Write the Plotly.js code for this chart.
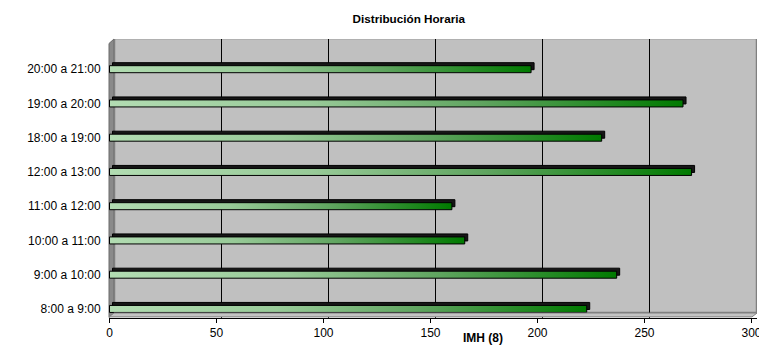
<!DOCTYPE html>
<html>
<head>
<meta charset="utf-8">
<script src="https://cdn.plot.ly/plotly-3.0.1.min.js"></script>
<style>
html,body{margin:0;padding:0;background:#fff;}
#chart{width:759px;height:346px;}
</style>
</head>
<body>
<div id="chart"></div>
<script>
// ---- data (bottom to top) ----
var categories = ['8:00 a 9:00','9:00 a 10:00','10:00 a 11:00','11:00 a 12:00','12:00 a 13:00','18:00 a 19:00','19:00 a 20:00','20:00 a 21:00'];
var values = [223, 237, 166, 160, 272, 230, 268, 197];
var xTickVals = [0, 50, 100, 150, 200, 250, 300];
var gridVals = [50, 100, 150, 200, 250];
var yMinorTicks = [0,1,2,3,4,5,6,7,8,9,10,11,12,13,14,15,16];
var chartTitle = 'Distribución Horaria';
var xTitle = 'IMH (8)';

// ---- geometry (3D offsets in pixels) ----
var pxPerUnitX = 642/300;      // front plane
var pxPerUnitYLin = 274/16;    // front plane, 16 tick slots
var plotW = 648, plotH = 279;
var fx0 = -0.5/pxPerUnitX, fx1 = fx0 + plotW/pxPerUnitX;
var fy0 = -0.5/pxPerUnitYLin, fy1 = fy0 + plotH/pxPerUnitYLin;
var backShift = 5, shadowShift = 3;

var FONT = 'Liberation Sans, Arial, sans-serif';

var data = [
  { // depth / top face of bars
    type: 'bar', orientation: 'h', x: values, y: categories,
    xaxis: 'x2', yaxis: 'y2', width: 0.205,
    marker: {color: '#161616', line: {color: '#000', width: 1}},
    hoverinfo: 'skip'
  },
  { // front face of bars
    type: 'bar', orientation: 'h', x: values, y: categories,
    xaxis: 'x3', yaxis: 'y3', width: 0.205,
    marker: {color: '#5aa85a', line: {color: '#000', width: 1}}
  }
];

var catY0 = fy0/2 - 0.25, catY1 = fy1/2 - 0.25;
var catShift = shadowShift/(2*pxPerUnitYLin);

var layout = {
  width: 759, height: 346,
  margin: {l: 109, r: 2, t: 39, b: 28, pad: 0},
  paper_bgcolor: '#ffffff', plot_bgcolor: 'rgba(0,0,0,0)',
  showlegend: false,
  font: {family: FONT, size: 12, color: '#000'},
  title: {
    text: chartTitle, xref: 'container', yref: 'container',
    x: 408.8/759, xanchor: 'center', y: 1 - 19/346, yanchor: 'middle',
    font: {family: FONT, size: 11.7, color: '#000', weight: 700}
  },
  // back wall axes (gridlines)
  xaxis: {range: [fx0 - backShift/pxPerUnitX, fx1 - backShift/pxPerUnitX], tickvals: gridVals,
          showgrid: true, gridcolor: '#000', gridwidth: 1, showticklabels: false, ticks: '',
          zeroline: false, showline: false, fixedrange: true},
  yaxis: {range: [fy0 - backShift/pxPerUnitYLin, fy1 - backShift/pxPerUnitYLin], showgrid: false,
          showticklabels: false, ticks: '', zeroline: false, showline: false, fixedrange: true},
  // shadow axes
  xaxis2: {overlaying: 'x', anchor: 'y2', range: [fx0 - shadowShift/pxPerUnitX, fx1 - shadowShift/pxPerUnitX],
           visible: false, fixedrange: true},
  yaxis2: {overlaying: 'y', anchor: 'x2', type: 'category', categoryorder: 'array', categoryarray: categories,
           range: [catY0 - catShift, catY1 - catShift], visible: false, fixedrange: true},
  // front axes
  xaxis3: {overlaying: 'x', anchor: 'y3', side: 'bottom', range: [fx0, fx1], tickvals: xTickVals,
           ticks: 'outside', ticklen: 4, tickwidth: 1, tickcolor: '#000', ticklabeloverflow: 'allow',
           showline: true, linecolor: '#000', linewidth: 1, showgrid: false, zeroline: false,
           tickfont: {family: FONT, size: 12, color: '#000'}, fixedrange: true},
  yaxis3: {overlaying: 'y', anchor: 'x3', side: 'left', type: 'category', categoryorder: 'array',
           categoryarray: categories, range: [catY0, catY1],
           ticks: 'outside', ticklen: 5, tickcolor: 'rgba(0,0,0,0)', showline: false, showgrid: false,
           zeroline: false, tickfont: {family: FONT, size: 12, color: '#000'}, fixedrange: true},
  // front y tick marks (two per category slot)
  yaxis4: {overlaying: 'y', anchor: 'x3', side: 'left', range: [fy0, fy1], tickvals: yMinorTicks,
           ticks: 'outside', ticklen: 5, tickcolor: '#000', tickwidth: 1, showticklabels: false,
           showline: true, linecolor: '#000', linewidth: 1.5, showgrid: false, zeroline: false, fixedrange: true},
  shapes: [
    // back wall
    {type: 'rect', xref: 'x', yref: 'y', x0: 0, x1: 300, y0: 0, y1: 16, layer: 'below',
     fillcolor: '#c0c0c0', line: {color: '#808080', width: 1.5}},
    // left side wall
    {type: 'path', xref: 'paper', yref: 'paper', layer: 'below',
     path: 'M 0 0.0018 L 0 0.9839 L 0.0077 1 L 0.0077 0.0179 Z',
     fillcolor: '#8a8a8a', line: {color: '#6a6a6a', width: 1}},
    // floor
    {type: 'path', xref: 'paper', yref: 'paper', layer: 'above',
     path: 'M 0 0.004 L 0.0077 0.0179 L 1 0.0179 L 0.9923 0.004 Z',
     fillcolor: '#c4c4c4', line: {color: '#808080', width: 1}}
  ],
  annotations: [
    {text: xTitle, xref: 'paper', yref: 'paper', x: (483-109)/648, y: (318-346)/279,
     xanchor: 'center', yanchor: 'bottom', showarrow: false, borderpad: 0,
     font: {family: FONT, size: 12, color: '#000', weight: 700}}
  ]
};

var gd = document.getElementById('chart');
Plotly.newPlot(gd, data, layout, {staticPlot: true, displayModeBar: false}).then(function(){
  var ns = 'http://www.w3.org/2000/svg';
  var svg = gd.querySelector('svg.main-svg');
  var defs = svg.querySelector('defs');
  if (!defs) { defs = document.createElementNS(ns, 'defs'); svg.insertBefore(defs, svg.firstChild); }
  var lg = document.createElementNS(ns, 'linearGradient');
  lg.setAttribute('id', 'barGrad');
  lg.setAttribute('x1', '0'); lg.setAttribute('y1', '0');
  lg.setAttribute('x2', '1'); lg.setAttribute('y2', '0');
  [['0', '#b2dcb2'], ['0.35', '#98ca98'], ['0.65', '#5fa45f'], ['1', '#007a00']].forEach(function(s){
    var st = document.createElementNS(ns, 'stop');
    st.setAttribute('offset', s[0]); st.setAttribute('stop-color', s[1]);
    lg.appendChild(st);
  });
  defs.appendChild(lg);
  gd.querySelectorAll('.barlayer .point path').forEach(function(p){
    if (p.style.fill === 'rgb(90, 168, 90)') p.style.fill = 'url(#barGrad)';
  });
});
</script>
</body>
</html>
